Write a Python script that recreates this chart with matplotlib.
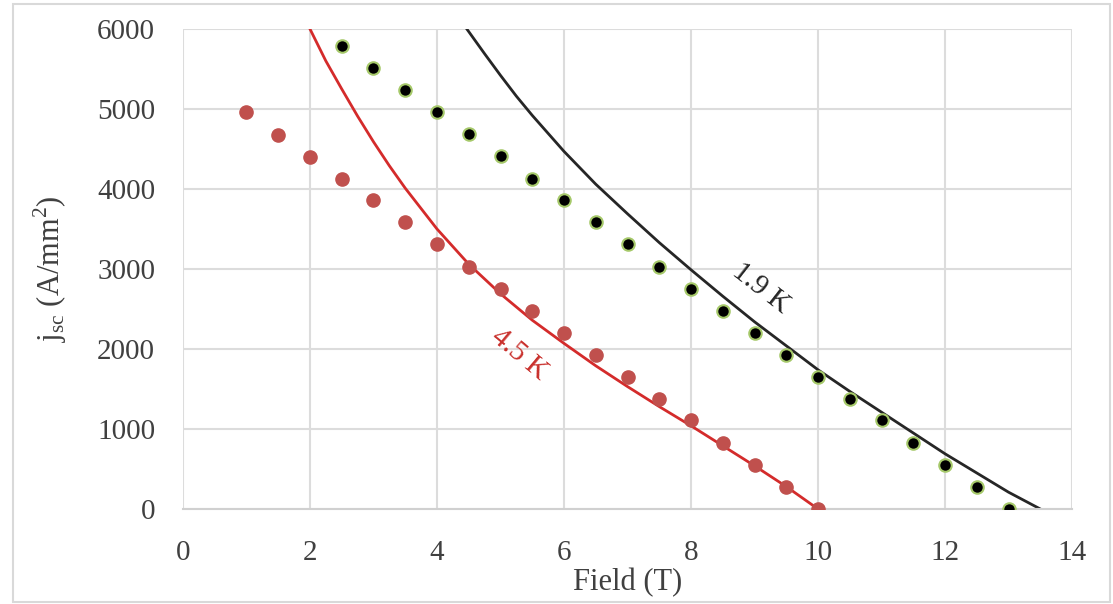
import matplotlib.pyplot as plt
from matplotlib.patches import Rectangle

# measured points (T, A/mm2)
field_45 = [1.0, 1.5, 2.0, 2.5, 3.0, 3.5, 4.0, 4.5, 5.0, 5.5, 6.0, 6.5, 7.0, 7.5, 8.0, 8.5, 9.0, 9.5, 10.0]
jsc_45 = [4960, 4680, 4400, 4120, 3860, 3590, 3310, 3030, 2750, 2480, 2200, 1930, 1650, 1370, 1110, 830, 550, 270, 0]

field_19 = [2.5, 3.0, 3.5, 4.0, 4.5, 5.0, 5.5, 6.0, 6.5, 7.0, 7.5, 8.0, 8.5, 9.0, 9.5, 10.0, 10.5, 11.0, 11.5, 12.0, 12.5, 13.0]
jsc_19 = [5790, 5510, 5240, 4960, 4690, 4410, 4120, 3860, 3590, 3310, 3030, 2750, 2480, 2200, 1930, 1650, 1370, 1110, 830, 550, 270, 0]

# fit curves
fit_field_45 = [2.0, 2.25, 2.5, 2.75, 3.0, 3.25, 3.5, 4.0, 4.5, 5.0, 5.5, 6.0, 6.5, 7.0, 7.5, 8.0, 8.5, 9.0, 9.5, 10.0]
fit_jsc_45 = [6000, 5600, 5250, 4910, 4590, 4290, 4010, 3500, 3060, 2690, 2360, 2070, 1790, 1530, 1280, 1040, 790, 540, 280, 0]

fit_field_19 = [4.47, 4.75, 5.0, 5.25, 5.5, 6.0, 6.5, 7.0, 7.5, 8.0, 8.5, 9.0, 9.5, 10.0, 10.5, 11.0, 11.5, 12.0, 12.5, 13.0, 13.5]
fit_jsc_19 = [6000, 5690, 5420, 5160, 4920, 4470, 4060, 3690, 3330, 2990, 2660, 2340, 2040, 1740, 1470, 1210, 950, 690, 450, 210, 0]

x_ticks = [0, 2, 4, 6, 8, 10, 12, 14]
y_ticks = [0, 1000, 2000, 3000, 4000, 5000, 6000]

plt.rcParams['font.family'] = ['Liberation Serif', 'DejaVu Serif']

fig = plt.figure(figsize=(11.13, 6.04), dpi=100)
ax = fig.add_axes([0.1644, 0.1573, 0.7988, 0.7947])

ax.plot(fit_field_45, fit_jsc_45, color='#d42b2b', lw=2, zorder=2)
ax.plot(fit_field_19, fit_jsc_19, color='#262626', lw=2, zorder=2)
ax.plot(field_45, jsc_45, 'o', color='#c0504d', ms=9.5, mec='#c0504d', zorder=3)
ax.plot(field_19, jsc_19, 'o', color='black', ms=9, mec='#a6c96a', mew=1.5, zorder=3)

ax.text(9.1, 2760, '1.9 K', rotation=-38, fontsize=21, color='#262626',
        ha='center', va='center')
ax.text(5.3, 1930, '4.5 K', rotation=-40, fontsize=21, color='#c9302c',
        ha='center', va='center')

ax.set_xlim(0, 14)
ax.set_ylim(0, 6000)
ax.set_xticks(x_ticks)
ax.set_yticks(y_ticks)
ax.tick_params(length=0, labelsize=21, colors='#404040')
ax.tick_params(axis='x', pad=22)
ax.tick_params(axis='y', pad=20)
ax.grid(color='#dcdcdc', lw=1.5)
for s in ['top', 'right', 'left']:
    ax.spines[s].set_visible(False)
ax.spines['bottom'].set_color('#d0d0d0')
ax.spines['bottom'].set_linewidth(1.5)
ax.set_axisbelow(True)

ax.set_xlabel('Field (T)', fontsize=22, color='#404040', labelpad=2)
ax.set_ylabel(r'j$_{\mathregular{sc}}$ (A/mm$^{\mathregular{2}}$)', fontsize=22, color='#404040', labelpad=20)

fig.patches.append(Rectangle((0.012, 0.004), 0.985, 0.99, transform=fig.transFigure,
                             fill=False, edgecolor='#d9d9d9', lw=1.5))

plt.savefig('out.png', dpi=100)
